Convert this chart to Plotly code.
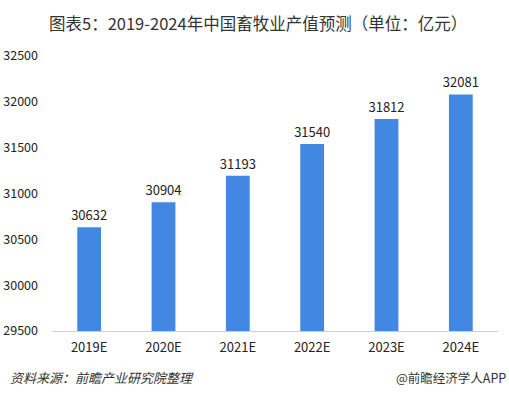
import plotly.graph_objects as go

categories = ["2019E", "2020E", "2021E", "2022E", "2023E", "2024E"]
values = [30632, 30904, 31193, 31540, 31812, 32081]
y_ticks = [29500, 30000, 30500, 31000, 31500, 32000, 32500]

font_family = "Microsoft YaHei, Noto Sans CJK SC, sans-serif"

fig = go.Figure()
fig.add_trace(go.Bar(
    x=categories,
    y=values,
    marker=dict(color="#4288e2", line=dict(width=0)),
    text=[str(v) for v in values],
    textposition="outside",
    constraintext="none",
    textfont=dict(size=13, color="#222222", family=font_family),
    cliponaxis=False,
    width=0.32,
))

fig.update_layout(
    width=509, height=398,
    margin=dict(l=52, r=11, t=56, b=67, autoexpand=False),
    paper_bgcolor="white",
    plot_bgcolor="white",
    showlegend=False,
    font=dict(family=font_family, color="#222222", size=13),
    title=dict(
        text="图表5：2019-2024年中国畜牧业产值预测（单位：亿元）",
        x=0.507, xanchor="center", y=0.94, yanchor="middle",
        font=dict(size=16.5, color="#333333", family=font_family),
    ),
)

fig.update_yaxes(
    range=[29500, 32500],
    tickvals=y_ticks,
    ticktext=[str(t) for t in y_ticks],
    showgrid=False,
    zeroline=False,
    showline=False,
    ticks="",
    automargin=False,
    tickfont=dict(size=12.5, color="#222222"),
    ticklabelstandoff=13,
)
fig.update_xaxes(
    showline=True,
    linecolor="#d0d0d0",
    linewidth=1,
    ticks="",
    automargin=False,
    tickfont=dict(size=13, color="#222222"),
    ticklabelstandoff=4,
)

fig.add_annotation(
    text="<i>资料来源：前瞻产业研究院整理</i>",
    xref="paper", yref="paper", x=-44 / 446, y=-0.17,
    xanchor="left", yanchor="middle", showarrow=False,
    font=dict(size=13, color="#333333", family=font_family),
)
fig.add_annotation(
    text="@前瞻经济学人APP",
    xref="paper", yref="paper", x=1.022, y=-0.17,
    xanchor="right", yanchor="middle", showarrow=False,
    font=dict(size=12.5, color="#333333", family=font_family),
)

fig.write_html(
    "out.html",
    config={"displayModeBar": False},
    post_script="document.body.style.margin='0';",
)
